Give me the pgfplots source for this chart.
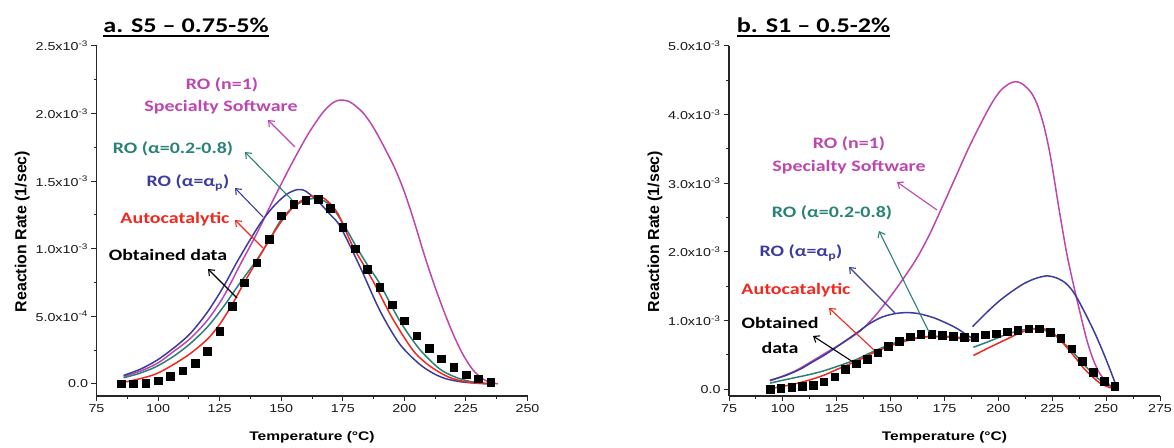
\documentclass[border=0pt]{standalone}
\usepackage{fontspec}
\setmainfont{Carlito}[FakeStretch=1.25]
\newfontfamily\arial{Liberation Sans}[FakeStretch=1.25]
\newfontfamily\arialplain{Liberation Sans}
\usepackage{pgfplots}
\pgfplotsset{compat=1.18}
\usetikzlibrary{arrows.meta}

\definecolor{cMag}{RGB}{190,70,175}
\definecolor{cTeal}{RGB}{40,130,120}
\definecolor{cBlue}{RGB}{60,60,160}
\definecolor{cRed}{RGB}{240,40,30}

\pgfplotsset{
  panel/.style={
    width=431bp, height=350bp, scale only axis,
    axis x line*=bottom, axis y line*=left,
    axis line style={line width=1.3bp, black!85, -},
    tick align=outside, major tick length=5bp, minor tick length=3bp,
    every tick/.style={line width=1bp, black!85},
    minor x tick num=1, minor y tick num=1,
    /pgf/number format/assume math mode=true,
    ticklabel style={font=\arial\fontsize{11.5}{13}\selectfont, text=black!90},
    xtick={75,100,...,275},
    xlabel={Temperature (°C)},
    ylabel={Reaction Rate (1/sec)},
    xlabel style={font=\arial\bfseries\fontsize{12.5}{14}\selectfont,
      at={(axis description cs:0.5,-0.117)}, anchor=center},
    ylabel style={font=\arialplain\bfseries\fontsize{16}{18}\selectfont,
      at={(axis description cs:-0.172,0.47)}, anchor=center},
    clip=false,
  },
  fit/.style={line width=1.5bp, smooth, no marks},
  obs/.style={only marks, mark=square*, mark size=3.8bp, black},
}
\tikzset{ann/.style={font=\fontsize{16}{19}\selectfont\bfseries, inner sep=0},
  arr/.style={line width=1.1bp, -{Straight Barb[length=5bp,width=8bp]}}}

\begin{document}
\begin{tikzpicture}[x=1bp,y=1bp]
\useasboundingbox (0,0) rectangle (1174,448);

% ---------- panel a ----------
\begin{axis}[panel, at={(96.5bp,52bp)}, anchor=south west,
  xmin=75, xmax=250, ymin=-0.09, ymax=2.5,
  ytick={0,0.5,...,2.5},
  yticklabels={0.0, 5.0x10\textsuperscript{-4}, 1.0x10\textsuperscript{-3},
    1.5x10\textsuperscript{-3}, 2.0x10\textsuperscript{-3}, 2.5x10\textsuperscript{-3}}]
\addplot[obs] table {
85 0.000
90 0.000
95 0.005
100 0.022
105 0.057
110 0.096
115 0.153
120 0.240
125 0.390
130 0.576
135 0.747
140 0.895
145 1.071
150 1.244
155 1.329
160 1.361
165 1.366
170 1.300
175 1.157
180 1.000
185 0.848
190 0.713
195 0.585
200 0.468
205 0.356
210 0.262
215 0.186
220 0.121
225 0.069
230 0.037
235 0.012
};
\addplot[fit, cMag] coordinates {
(86,0.055) (93,0.095) (100,0.155) (106,0.235) (113,0.334) (120,0.47)
(126.5,0.643) (133,0.87) (140,1.11) (147,1.37) (154,1.62) (161,1.85)
(167,2.01) (171,2.08) (174,2.10) (178,2.085) (183,2.01) (187,1.91)
(191,1.78) (196,1.60) (200,1.42) (204,1.20) (208,0.96) (212,0.74)
(216,0.54) (220,0.36) (224,0.21) (228,0.10) (232,0.035) (235,0.01) (238,0.0)
};
\addplot[fit, cBlue] coordinates {
(86,0.062) (93,0.11) (99.4,0.173) (106,0.26) (113,0.371) (120,0.53)
(126.5,0.717) (132,0.90) (137.3,1.064) (142,1.20) (146.8,1.311) (152,1.40)
(156.5,1.437) (160,1.425) (165.7,1.336) (170,1.25) (174,1.163) (182,0.866)
(190,0.544) (198,0.297) (206,0.148) (212,0.075) (217,0.037) (223,0.015)
(229,0.005) (235,0.0)
};
\addplot[fit, cTeal] coordinates {
(86,0.045) (92,0.075) (99,0.125) (106,0.20) (113,0.297) (120,0.42)
(126.5,0.569) (133,0.74) (140,0.915) (145,1.06) (150,1.215) (155,1.31)
(160,1.36) (165,1.37) (170,1.32) (175,1.19) (180,1.03) (185,0.88)
(190,0.742) (198,0.47) (206,0.26) (214,0.115) (220,0.055) (226,0.02)
(231,0.007) (236,0.0)
};
\addplot[fit, cRed] coordinates {
(86,0.012) (92,0.035) (99,0.072) (106,0.14) (113,0.223) (120,0.33)
(125,0.44) (130,0.585) (135,0.75) (140,0.905) (145,1.06) (150,1.20)
(155,1.31) (160,1.375) (164,1.39) (168,1.365) (173,1.26) (179,1.02)
(187,0.77) (195,0.49) (203,0.26) (208,0.165) (213,0.099) (218,0.05)
(223,0.022) (229,0.006) (235,0.0)
};
\end{axis}

% ---------- panel b ----------
\begin{axis}[panel, at={(729bp,52bp)}, anchor=south west,
  xmin=75, xmax=275, ymin=-0.1, ymax=5,
  ytick={0,1,...,5},
  yticklabels={0.0, 1.0x10\textsuperscript{-3}, 2.0x10\textsuperscript{-3},
    3.0x10\textsuperscript{-3}, 4.0x10\textsuperscript{-3}, 5.0x10\textsuperscript{-3}}]
\addplot[obs] table {
94 0.000
99 0.010
104 0.024
109 0.039
114 0.058
119 0.106
124 0.184
129 0.290
134 0.372
139 0.435
144 0.531
149 0.623
154 0.700
159 0.763
164 0.797
169 0.800
174 0.787
179 0.773
184 0.758
189 0.760
194 0.792
199 0.810
204 0.836
209 0.855
214 0.879
219 0.879
224 0.831
229 0.744
234 0.590
239 0.406
244 0.251
249 0.116
254 0.039
};
\addplot[fit, cMag] coordinates {
(94,0.12) (100,0.19) (106,0.27) (112.6,0.39) (120,0.53) (128,0.68)
(135.8,0.845) (142,1.04) (148,1.27) (155,1.57) (162,1.90) (168,2.25)
(174,2.66) (180,3.08) (186,3.50) (192,3.88) (197,4.17) (201,4.35)
(205,4.45) (208,4.48) (211,4.45) (215,4.33) (218,4.15) (221,3.85)
(223.5,3.50) (225.5,3.14) (228,2.65) (231.7,1.98) (235,1.50) (238,1.10)
(241,0.72) (244,0.43) (247,0.23) (250.3,0.10) (253,0.03) (255,0.0)
};
\addplot[fit, cBlue] coordinates {
(94,0.13) (101,0.195) (108,0.29) (114,0.40) (120,0.51) (128,0.68)
(134.3,0.82) (140,0.95) (146,1.05) (152,1.10) (157.5,1.115) (163,1.10)
(170,1.04) (176,0.96) (181,0.88) (185.3,0.79) (188,0.74)
};
\addplot[fit, cBlue] coordinates {
(188,0.91) (195,1.13) (201,1.30) (207,1.44) (212,1.54) (217,1.61)
(222.4,1.65) (227,1.62) (231,1.55) (234,1.45) (237,1.30) (241,1.06)
(245,0.80) (248.7,0.53) (252,0.27) (255,0.02)
};
\addplot[fit, cTeal] coordinates {
(94,0.087) (100,0.13) (106,0.17) (112,0.21) (118.8,0.265) (126,0.34)
(134.3,0.435) (142,0.55) (149.7,0.65) (157,0.72) (165.2,0.76) (172,0.765)
(179,0.75) (187,0.71)
};
\addplot[fit, cTeal] coordinates {
(188.4,0.61) (196,0.70) (203.9,0.80) (211,0.86) (217.8,0.88) (223,0.84)
(227.1,0.77) (231,0.65) (234.9,0.53) (238.5,0.40) (242.5,0.265) (246,0.16)
(250.3,0.07) (253,0.03) (255.7,0.01)
};
\addplot[fit, cRed] coordinates {
(94,0.01) (100,0.04) (106,0.08) (112,0.13) (118.8,0.20) (126,0.30)
(134.3,0.41) (142,0.53) (149.7,0.63) (157,0.70) (165,0.76) (172,0.77)
(180.6,0.76) (187,0.72)
};
\addplot[fit, cRed] coordinates {
(188.4,0.49) (196,0.61) (204,0.73) (210,0.82) (216.2,0.88) (219,0.885)
(222.4,0.87) (225.5,0.81) (228.6,0.72) (232.5,0.58) (236.3,0.435) (240,0.29)
(244,0.17) (247,0.09) (250.3,0.04) (253,0.01) (255.7,0.0)
};
\end{axis}

% ---------- titles ----------
\node[font=\fontsize{21}{24}\selectfont\bfseries, anchor=base, inner sep=0] (ta) at (186,415) {a. S5 – 0.75-5\%};
\draw[line width=1.5bp] ([yshift=-2.8bp]ta.base west) -- ([yshift=-2.8bp]ta.base east);
\node[font=\fontsize{21}{24}\selectfont\bfseries, anchor=base, inner sep=0] (tb) at (813.5,415) {b. S1 – 0.5-2\%};
\draw[line width=1.5bp] ([yshift=-2.8bp]tb.base west) -- ([yshift=-2.8bp]tb.base east);

% ---------- annotations, panel a ----------
\node[ann, text=cMag] at (222,363) {RO (n=1)};
\node[ann, text=cMag] at (221,341) {Specialty Software};
\draw[arr, cMag] (295,301) -- (268,328);
\node[ann, text=cTeal] at (173,299) {RO (α=0.2-0.8)};
\draw[arr, cTeal] (292,248) -- (245,296);
\node[ann, text=cBlue] at (188,265) {RO (α=α\textsubscript{p})};
\draw[arr, cBlue] (263,231) -- (235,260);
\node[ann, text=cRed] at (175,229) {Autocatalytic};
\draw[arr, cRed] (263,200) -- (235,228);
\node[ann] at (168,193) {Obtained data};
\draw[arr, black] (237,150) -- (208,179);

% ---------- annotations, panel b ----------
\node[ann, text=cMag] at (849,304) {RO (n=1)};
\node[ann, text=cMag] at (849,281) {Specialty Software};
\draw[arr, cMag] (937,238) -- (897,266);
\node[ann, text=cTeal] at (832,235) {RO (α=0.2-0.8)};
\draw[arr, cTeal] (929,116) -- (879,217);
\node[ann, text=cBlue] at (801,195) {RO (α=α\textsubscript{p})};
\draw[arr, cBlue] (895,135) -- (849,181);
\node[ann, text=cRed] at (796,158) {Autocatalytic};
\draw[arr, cRed] (874,98) -- (829,140);
\node[ann] at (780,125) {Obtained};
\node[ann] at (780,100) {data};
\draw[arr, black] (853,86) -- (813,112);
\end{tikzpicture}
\end{document}
